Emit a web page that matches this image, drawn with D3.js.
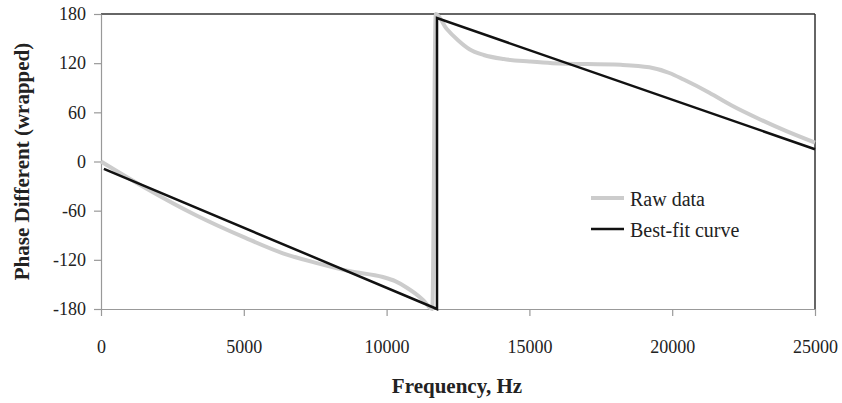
<!DOCTYPE html>
<html>
<head>
<meta charset="utf-8">
<script src="https://cdn.jsdelivr.net/npm/d3@7"></script>
<style>
  body { margin: 0; background: #fff; }
  svg { font-family: "Liberation Serif", "Times New Roman", serif; }
</style>
</head>
<body>
<svg id="chart" width="842" height="403"></svg>
<script>
const rawFreq  = [0, 1540, 3290, 5040, 6370, 7560, 8720, 9870, 10300, 10710, 11000, 11275, 11600, 11720, 12100, 12500, 12900, 13400, 14100, 15000, 15800, 18200, 19200, 19900, 20400, 21300, 22100, 23100, 24000, 25000];
const rawPhase = [0, -32, -65, -93, -112, -124, -134, -141, -146, -154, -161, -169, -180, 180, 162, 148, 137, 130, 125, 122, 120, 118, 115, 108, 100, 84, 68, 51, 37, 23];

// best-fit line
const fitFreq  = [100, 11765, 11765, 25000];
const fitPhase = [-9, -180, 175, 15];

const xTicks = [0, 5000, 10000, 15000, 20000, 25000];
const yTicks = [-180, -120, -60, 0, 60, 120, 180];

const legendItems = [
  { name: "Raw data", color: "#cccccc", width: 4 },
  { name: "Best-fit curve", color: "#111111", width: 2.5 }
];

const margin = { left: 101, right: 27, top: 14, bottom: 94 };
const width = 842, height = 403;
const svg = d3.select("#chart");

const xScale = d3.scaleLinear().domain([0, 25000]).range([margin.left, width - margin.right]);
const yScale = d3.scaleLinear().domain([-180, 180]).range([height - margin.bottom, margin.top]);

// frame (top and right dark)
svg.append("line")
  .attr("x1", xScale(0)).attr("x2", xScale(25000))
  .attr("y1", yScale(180)).attr("y2", yScale(180))
  .attr("stroke", "#333").attr("stroke-width", 1.5);
svg.append("line")
  .attr("x1", xScale(25000)).attr("x2", xScale(25000))
  .attr("y1", yScale(180)).attr("y2", yScale(-180))
  .attr("stroke", "#333").attr("stroke-width", 1.5);

// axes
const xAxis = d3.axisBottom(xScale).tickValues(xTicks).tickSize(7).tickSizeOuter(0).tickFormat(d => String(d));
const yAxis = d3.axisLeft(yScale).tickValues(yTicks).tickSize(7).tickSizeOuter(0).tickFormat(d => String(d));

const gx = svg.append("g")
  .attr("transform", `translate(0, ${yScale(-180)})`)
  .call(xAxis);
gx.selectAll("text").attr("y", 31);

const gy = svg.append("g")
  .attr("transform", `translate(${xScale(0)}, 0)`)
  .call(yAxis);
gy.selectAll("text").attr("x", -15);

[gx, gy].forEach(g => {
  g.select(".domain").attr("stroke", "#999").attr("stroke-width", 1.2);
  g.selectAll(".tick line").attr("stroke", "#999").attr("stroke-width", 1.2);
  g.selectAll("text")
    .attr("font-family", "Liberation Serif, serif")
    .attr("font-size", 18)
    .attr("fill", "#222");
});

// raw data
const rawData = rawFreq.map((f, i) => [f, rawPhase[i]]);
const rawLine = d3.line()
  .x(d => xScale(d[0]))
  .y(d => yScale(d[1]))
  .curve(d3.curveMonotoneX);

svg.append("path")
  .datum(rawData)
  .attr("d", rawLine)
  .attr("fill", "none")
  .attr("stroke", legendItems[0].color)
  .attr("stroke-width", legendItems[0].width);

// best fit
const fitData = fitFreq.map((f, i) => [f, fitPhase[i]]);
const fitLine = d3.line()
  .x(d => xScale(d[0]))
  .y(d => yScale(d[1]));

svg.append("path")
  .datum(fitData)
  .attr("d", fitLine)
  .attr("fill", "none")
  .attr("stroke", legendItems[1].color)
  .attr("stroke-width", legendItems[1].width)
  .attr("stroke-linejoin", "miter");

// legend
const legend = svg.append("g").attr("transform", "translate(591, 198)");
legendItems.forEach((item, i) => {
  const row = legend.append("g").attr("transform", `translate(0, ${i * 31})`);
  row.append("line")
    .attr("x1", 0).attr("x2", 33)
    .attr("stroke", item.color)
    .attr("stroke-width", item.width);
  row.append("text")
    .attr("x", 39).attr("y", 8)
    .attr("font-size", 20)
    .attr("fill", "#222")
    .text(item.name);
});

// axis titles
svg.append("text")
  .attr("x", 457)
  .attr("y", 393)
  .attr("text-anchor", "middle")
  .attr("font-size", 21)
  .attr("font-weight", "bold")
  .attr("fill", "#222")
  .text("Frequency, Hz");

svg.append("text")
  .attr("transform", `translate(29, ${yScale(0)}) rotate(-90)`)
  .attr("text-anchor", "middle")
  .attr("font-size", 21)
  .attr("font-weight", "bold")
  .attr("fill", "#222")
  .text("Phase Different (wrapped)");
</script>
</body>
</html>
